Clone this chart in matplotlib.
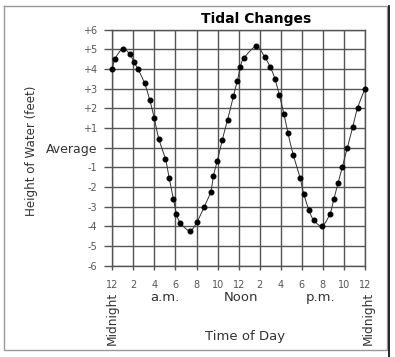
import numpy as np
import matplotlib
matplotlib.use("Agg")
import matplotlib.pyplot as plt
import matplotlib.transforms as mtransforms
from matplotlib.lines import Line2D

# ---- data ----
hours = [0.0, 0.26, 1.0, 1.65, 2.06, 2.44, 3.07, 3.55, 3.99, 4.41,
         5.05, 5.40, 5.79, 6.08, 6.46, 7.35, 8.04, 8.72, 9.35, 9.60,
         9.98, 10.43, 10.95, 11.49, 11.87, 12.16, 12.48, 13.68, 14.47, 15.02,
         15.44, 15.86, 16.30, 16.67, 17.19, 17.83, 18.18, 18.68, 19.13, 19.93,
         20.67, 21.05, 21.46, 21.84, 22.33, 22.83, 23.30, 24.0]
height = [4.0, 4.52, 5.03, 4.76, 4.36, 4.0, 3.27, 2.44, 1.49, 0.46,
          -0.58, -1.53, -2.59, -3.36, -3.81, -4.22, -3.78, -3.0, -2.24, -1.44,
          -0.66, 0.37, 1.42, 2.61, 3.38, 4.10, 4.54, 5.15, 4.61, 4.08,
          3.51, 2.69, 1.71, 0.76, -0.37, -1.52, -2.34, -3.18, -3.68, -3.97,
          -3.36, -2.59, -1.78, -0.98, 0.01, 1.04, 2.03, 3.0]
x_ticks = list(range(0, 25, 2))
x_labels = ['12', '2', '4', '6', '8', '10', '12', '2', '4', '6', '8', '10', '12']
y_ticks = list(range(-6, 7))
y_labels = ['-6', '-5', '-4', '-3', '-2', '-1', 'Average', '+1', '+2', '+3', '+4', '+5', '+6']
title = 'Tidal Changes'
y_title = 'Height of Water (feet)'
x_title = 'Time of Day'

W, H = 395, 357
def fx(px): return px / W
def fy(py): return 1 - py / H

fig = plt.figure(figsize=(W / 100, H / 100), dpi=100)
ax = fig.add_axes([fx(112.3), fy(265.7), (365 - 112.3) / W, (265.7 - 29.7) / H])

# smooth curve (Catmull-Rom through the data points)
P = np.column_stack([hours, height])
Pp = np.vstack([P[0], P, P[-1]])
curve = []
for i in range(1, len(Pp) - 2):
    p0, p1, p2, p3 = Pp[i - 1], Pp[i], Pp[i + 1], Pp[i + 2]
    t = np.linspace(0, 1, 16)[:, None]
    seg = 0.5 * ((2 * p1) + (-p0 + p2) * t + (2 * p0 - 5 * p1 + 4 * p2 - p3) * t ** 2
                 + (-p0 + 3 * p1 - 3 * p2 + p3) * t ** 3)
    curve.append(seg)
curve = np.vstack(curve)
ax.plot(curve[:, 0], curve[:, 1], color='#333333', lw=0.7, zorder=3, clip_on=False)
ax.plot(hours, height, 'o', color='black', ms=3.3, zorder=4, clip_on=False)

ax.set_xlim(0, 24)
ax.set_ylim(-6, 6)
ax.set_xticks(x_ticks)
ax.set_xticklabels(x_labels)
ax.set_yticks(y_ticks)
ax.set_yticklabels(y_labels)
ax.grid(True, color='#555555', lw=1.0)
for s in ax.spines.values():
    s.set_color('#555555')
    s.set_linewidth(1.0)
ax.tick_params(axis='y', length=5.8, width=1.0, color='#555555', pad=4.8,
               labelsize=7, labelcolor='#555555')
ax.tick_params(axis='x', length=3.2, width=1.0, color='#555555', pad=7,
               labelsize=7, labelcolor='#555555')
for lab in ax.get_yticklabels():
    if lab.get_text() == 'Average':
        lab.set_fontsize(9)
        lab.set_color('#333333')

fig.text(fx(256.5), fy(22.7), title, ha='center', va='baseline',
         fontsize=10, fontweight='bold', color='black')
fig.text(fx(31), fy(151), y_title, rotation=90, ha='center', va='center',
         fontsize=8.6, color='#333333')
fig.text(fx(245), fy(340), x_title, ha='center', va='baseline',
         fontsize=9.5, color='#333333')

blend = mtransforms.blended_transform_factory(ax.transData, fig.transFigure)
for xv, txt in [(5, 'a.m.'), (12.2, 'Noon'), (19.8, 'p.m.')]:
    ax.text(xv, fy(301), txt, transform=blend, ha='center', va='baseline',
            fontsize=9.5, color='#333333')
for xv in [0, 24.3]:
    ax.text(xv, fy(291.5), 'Midnight', transform=blend, rotation=90,
            ha='center', va='top', fontsize=8.8, color='#333333')

# frame around the figure
def fline(xs, ys, **kw):
    fig.add_artist(Line2D([fx(v) for v in xs], [fy(v) for v in ys],
                          transform=fig.transFigure, **kw))
fline([4, 386.5, 386.5, 4, 4], [6, 6, 350, 350, 6], color='#999999', lw=1.0)
fline([389, 389], [6, 357], color='black', lw=1.2)

fig.savefig('out.png', dpi=100)
